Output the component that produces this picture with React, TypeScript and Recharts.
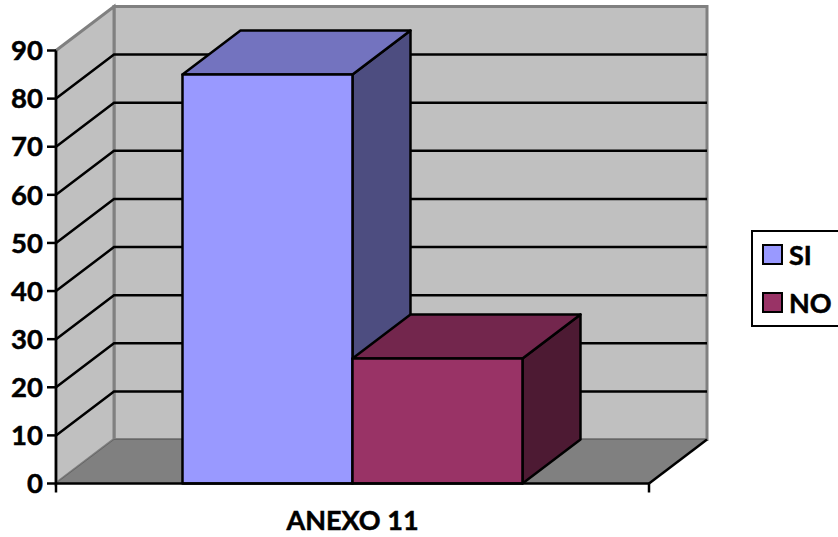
import { BarChart, Bar, XAxis, YAxis, CartesianGrid, ReferenceArea, Legend } from 'recharts'

const categories = ['ANEXO 11']
const siValues = [85]
const noValues = [26]
const yTicks = [0, 10, 20, 30, 40, 50, 60, 70, 80, 90]

const chartData = categories.map((name, i) => ({ name, SI: siValues[i], NO: noValues[i] }))

const DEPTH_X = 58
const DEPTH_Y = 44
const LINE = 2.5
const FONT = 'Lato, sans-serif'

const pts = (list: number[][]) => list.map((p) => p.join(',')).join(' ')

// darkens a #rrggbb colour, used for the top and side faces of the boxes
const shade = (hex: string, k: number) => {
  const n = parseInt(hex.slice(1), 16)
  const c = [(n >> 16) & 255, (n >> 8) & 255, n & 255].map((v) => Math.round(v * k))
  return `rgb(${c.join(',')})`
}

function Walls({ x, y, width, height }: any) {
  const bottom = y + height
  const right = x + width
  return (
    <g>
      {/* back wall */}
      <polygon
        points={pts([[x + DEPTH_X, y - DEPTH_Y], [right + DEPTH_X, y - DEPTH_Y], [right + DEPTH_X, bottom - DEPTH_Y], [x + DEPTH_X, bottom - DEPTH_Y]])}
        fill="#c0c0c0"
        stroke="#808080"
        strokeWidth={3}
      />
      {/* side wall */}
      <polygon
        points={pts([[x, y], [x + DEPTH_X, y - DEPTH_Y], [x + DEPTH_X, bottom - DEPTH_Y], [x, bottom]])}
        fill="#c0c0c0"
        stroke="#808080"
        strokeWidth={3}
      />
      {/* floor */}
      <polygon
        points={pts([[x, bottom], [x + DEPTH_X, bottom - DEPTH_Y], [right + DEPTH_X, bottom - DEPTH_Y], [right, bottom]])}
        fill="#808080"
      />
      <line x1={x + 1} y1={bottom - 1} x2={x + DEPTH_X} y2={bottom - DEPTH_Y} stroke="#666" strokeWidth={1} />
      <line x1={x + DEPTH_X} y1={bottom - DEPTH_Y} x2={right + DEPTH_X} y2={bottom - DEPTH_Y} stroke="#666" strokeWidth={1} />
      <line x1={right} y1={bottom} x2={right + DEPTH_X} y2={bottom - DEPTH_Y} stroke="#000" strokeWidth={LINE} />
      {/* category separators under the axis */}
      <line x1={x} y1={bottom} x2={x} y2={bottom + 9} stroke="#000" strokeWidth={LINE} />
      <line x1={right} y1={bottom} x2={right} y2={bottom + 9} stroke="#000" strokeWidth={LINE} />
    </g>
  )
}

function GridLine({ x1, x2, y1, index }: any) {
  // no line at the floor or along the top edge
  if (index === 0 || index === yTicks.length - 1) return <g key={index} />
  return (
    <polyline
      key={index}
      points={pts([[x1, y1], [x1 + DEPTH_X, y1 - DEPTH_Y], [x2 + DEPTH_X, y1 - DEPTH_Y]])}
      fill="none"
      stroke="#000"
      strokeWidth={LINE}
    />
  )
}

function Box({ x, y, width, height, fill }: any) {
  const right = x + width
  const bottom = y + height
  return (
    <g stroke="#000" strokeWidth={LINE} strokeLinejoin="round">
      <polygon
        points={pts([[right, y], [right + DEPTH_X, y - DEPTH_Y], [right + DEPTH_X, bottom - DEPTH_Y], [right, bottom]])}
        fill={shade(fill, 0.5)}
      />
      <polygon
        points={pts([[x, y], [x + DEPTH_X, y - DEPTH_Y], [right + DEPTH_X, y - DEPTH_Y], [right, y]])}
        fill={shade(fill, 0.75)}
      />
      <rect x={x} y={y} width={width} height={height} fill={fill} />
    </g>
  )
}

function LegendBox({ payload }: any) {
  return (
    <div style={{ width: 95, height: 93, border: '2.5px solid #000', background: '#fff', fontFamily: FONT, fontWeight: 700, fontSize: 27, WebkitTextStroke: '0.5px #000', position: 'relative' }}>
      {(payload || []).map((item: any, i: number) => (
        <div key={item.value} style={{ position: 'absolute', left: 9, top: 12 + i * 48, display: 'flex', alignItems: 'center', height: 20 }}>
          <span style={{ display: 'inline-block', width: 17, height: 17, border: '2.5px solid #000', background: item.color, marginRight: 6 }} />
          <span>{item.value}</span>
        </div>
      ))}
    </div>
  )
}

export default function App() {
  return (
    <div style={{ position: 'absolute', left: 0, top: 0, width: 838, height: 537, overflow: 'hidden', background: '#fff' }}>
      <BarChart
        width={838}
        height={537}
        data={chartData}
        margin={{ top: 50.5, right: 189, bottom: 0, left: 0 }}
        barCategoryGap="21.33%"
        barGap={0}
      >
        <ReferenceArea y1={0} y2={90} shape={Walls} zIndex={-200} />
        <CartesianGrid vertical={false} horizontal={GridLine} />
        <XAxis
          dataKey="name"
          height={53.5}
          axisLine={{ stroke: '#000', strokeWidth: LINE }}
          tickLine={false}
          tickMargin={21}
          tick={{ fill: '#000', stroke: '#000', strokeWidth: 0.5, fontSize: 27, fontWeight: 700, fontFamily: FONT }}
        />
        <YAxis
          width={56}
          domain={[0, 90]}
          ticks={yTicks}
          interval={0}
          axisLine={{ stroke: '#000', strokeWidth: LINE }}
          tickLine={{ stroke: '#000', strokeWidth: LINE }}
          tickSize={9}
          tickMargin={4}
          tick={{ fill: '#000', stroke: '#000', strokeWidth: 0.5, fontSize: 27.5, fontWeight: 700, fontFamily: FONT }}
        />
        <Legend
          layout="vertical"
          align="center"
          verticalAlign="middle"
          itemSorter={null}
          content={LegendBox}
          wrapperStyle={{ left: 751, top: 230, width: 95 }}
        />
        <Bar dataKey="SI" fill="#9999ff" shape={Box} isAnimationActive={false} />
        <Bar dataKey="NO" fill="#993366" shape={Box} isAnimationActive={false} />
      </BarChart>
    </div>
  )
}
